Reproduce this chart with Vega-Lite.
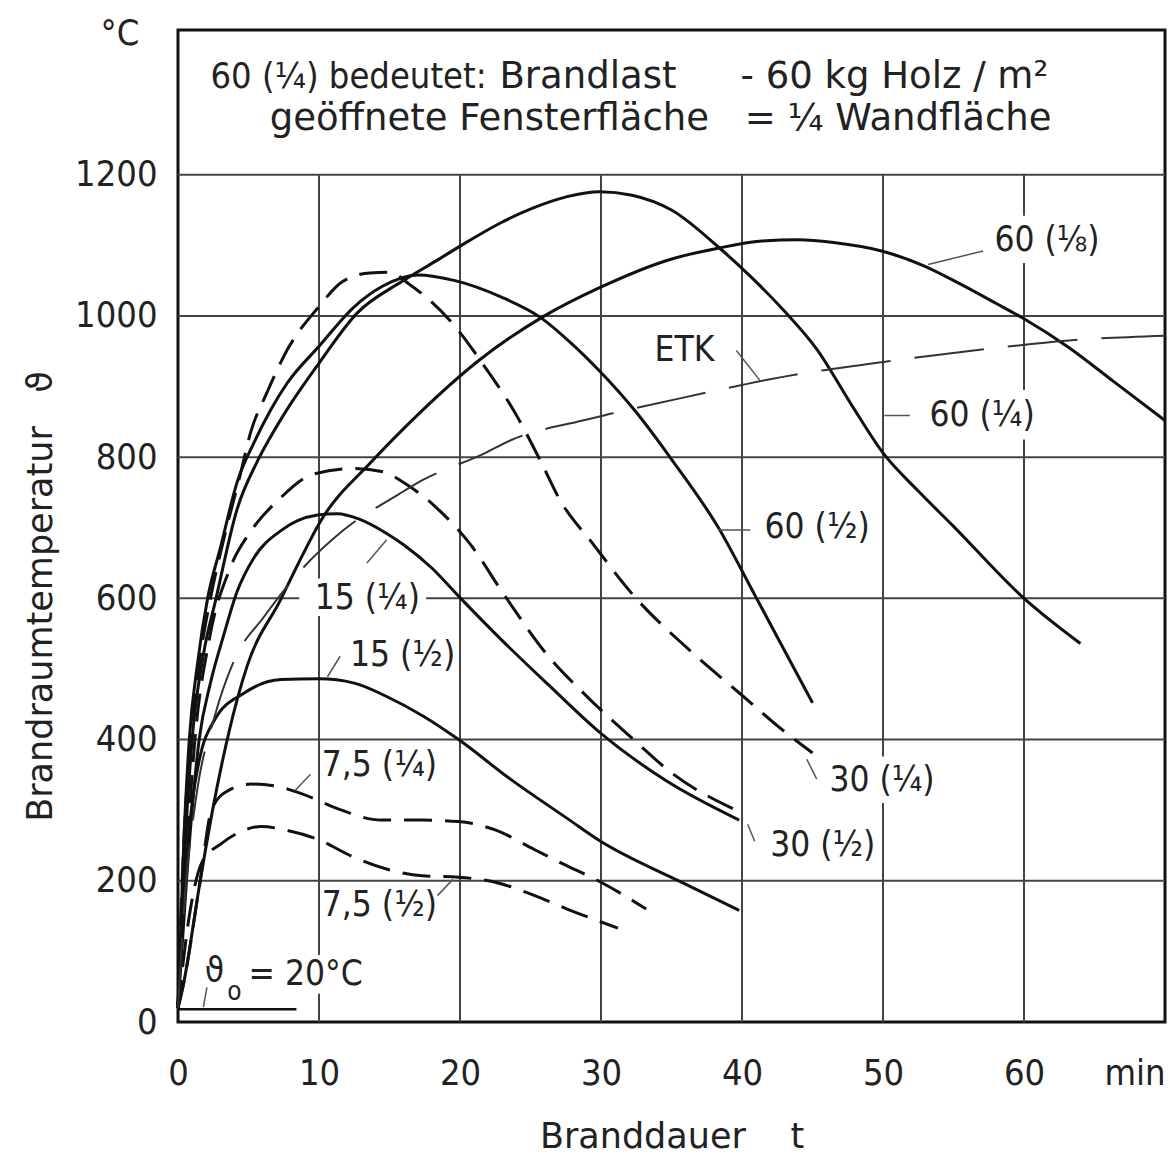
{
  "$schema": "https://vega.github.io/schema/vega-lite/v6.json",
  "width": 987,
  "height": 992,
  "autosize": {"type": "none"},
  "padding": {"left": 178, "top": 30, "right": 5, "bottom": 134},
  "background": "white",
  "config": {
    "view": {"stroke": "#111", "strokeWidth": 3},
    "font": "DejaVu Sans Condensed, DejaVu Sans",
    "axis": {"labelFont": "DejaVu Sans Condensed, DejaVu Sans", "titleFont": "DejaVu Sans"}
  },
  "datasets": {
    "grid": [
      {"t": 10, "T": 0, "t2": 10, "T2": 1200},
      {"t": 20, "T": 0, "t2": 20, "T2": 1200},
      {"t": 30, "T": 0, "t2": 30, "T2": 1200},
      {"t": 40, "T": 0, "t2": 40, "T2": 1200},
      {"t": 50, "T": 0, "t2": 50, "T2": 1200},
      {"t": 60, "T": 0, "t2": 60, "T2": 1200},
      {"t": 0, "T": 200, "t2": 70, "T2": 200},
      {"t": 0, "T": 400, "t2": 70, "T2": 400},
      {"t": 0, "T": 600, "t2": 70, "T2": 600},
      {"t": 0, "T": 800, "t2": 70, "T2": 800},
      {"t": 0, "T": 1000, "t2": 70, "T2": 1000},
      {"t": 0, "T": 1200, "t2": 70, "T2": 1200}
    ],
    "masks": [
      {"t": 8.6, "T": 575, "t2": 17.6, "T2": 628},
      {"t": 1.6, "T": 40, "t2": 13.6, "T2": 95},
      {"t": 52.8, "T": 825, "t2": 62.2, "T2": 895},
      {"t": 57.4, "T": 1075, "t2": 66.3, "T2": 1142},
      {"t": 45.8, "T": 310, "t2": 54.3, "T2": 376}
    ],
    "leaders": [
      {"t": 53.2, "T": 1073, "t2": 57.1, "T2": 1092},
      {"t": 50.1, "T": 859, "t2": 51.9, "T2": 859},
      {"t": 39.6, "T": 951, "t2": 41.3, "T2": 908},
      {"t": 38.3, "T": 697, "t2": 40.6, "T2": 697},
      {"t": 44.6, "T": 372, "t2": 45.3, "T2": 344},
      {"t": 40.4, "T": 280, "t2": 40.9, "T2": 256},
      {"t": 13.4, "T": 650, "t2": 14.8, "T2": 683},
      {"t": 10.6, "T": 489, "t2": 11.5, "T2": 518},
      {"t": 8.3, "T": 328, "t2": 9.4, "T2": 351},
      {"t": 18.4, "T": 179, "t2": 19.5, "T2": 202},
      {"t": 1.8, "T": 21, "t2": 2.05, "T2": 49}
    ],
    "base": [
      {"t": 0, "T": 18, "t2": 8.4, "T2": 18}
    ],
    "labels": [
      {"t": 57.9, "T": 1108, "label": "60 (⅛)"},
      {"t": 53.3, "T": 860, "label": "60 (¼)"},
      {"t": 33.8, "T": 952, "label": "ETK"},
      {"t": 41.6, "T": 701, "label": "60 (½)"},
      {"t": 46.2, "T": 343, "label": "30 (¼)"},
      {"t": 42.0, "T": 251, "label": "30 (½)"},
      {"t": 9.7, "T": 601, "label": "15 (¼)"},
      {"t": 12.2, "T": 520, "label": "15 (½)"},
      {"t": 10.2, "T": 364, "label": "7,5 (¼)"},
      {"t": 10.2, "T": 166, "label": "7,5 (½)"},
      {"t": 1.9, "T": 72, "label": "ϑ"},
      {"t": 5.0, "T": 68, "label": "= 20°C"}
    ],
    "subs": [
      {"t": 3.5, "T": 42, "label": "o"}
    ],
    "headerA": [
      {"t": 2.3, "T": 1339, "label": "60 (¼) bedeutet:"},
      {"t": -5.5, "T": 1400, "label": "°C"}
    ],
    "headerB": [
      {"t": 22.8, "T": 1339, "label": "Brandlast"},
      {"t": 39.9, "T": 1339, "label": "- 60 kg Holz / m²"},
      {"t": 6.5, "T": 1279, "label": "geöffnete Fensterfläche"},
      {"t": 40.2, "T": 1279, "label": "= ¼ Wandfläche"}
    ],
    "curves": [
      {"s": "60 (¼)", "t": 0, "T": 20}, {"s": "60 (¼)", "t": 0.5, "T": 250}, {"s": "60 (¼)", "t": 1, "T": 400}, {"s": "60 (¼)", "t": 1.8, "T": 520}, {"s": "60 (¼)", "t": 2.7, "T": 600}, {"s": "60 (¼)", "t": 4.2, "T": 727}, {"s": "60 (¼)", "t": 5.6, "T": 793}, {"s": "60 (¼)", "t": 6.6, "T": 830}, {"s": "60 (¼)", "t": 7.75, "T": 868}, {"s": "60 (¼)", "t": 10, "T": 933}, {"s": "60 (¼)", "t": 12.7, "T": 1004}, {"s": "60 (¼)", "t": 15.9, "T": 1049}, {"s": "60 (¼)", "t": 18.3, "T": 1078}, {"s": "60 (¼)", "t": 20.6, "T": 1106}, {"s": "60 (¼)", "t": 22.9, "T": 1132}, {"s": "60 (¼)", "t": 25.2, "T": 1153}, {"s": "60 (¼)", "t": 27.6, "T": 1169}, {"s": "60 (¼)", "t": 29.9, "T": 1176}, {"s": "60 (¼)", "t": 32.2, "T": 1171}, {"s": "60 (¼)", "t": 35, "T": 1150}, {"s": "60 (¼)", "t": 38.3, "T": 1098}, {"s": "60 (¼)", "t": 40.6, "T": 1056}, {"s": "60 (¼)", "t": 43, "T": 1007}, {"s": "60 (¼)", "t": 45.3, "T": 953}, {"s": "60 (¼)", "t": 47.8, "T": 873}, {"s": "60 (¼)", "t": 50, "T": 806}, {"s": "60 (¼)", "t": 52.5, "T": 752}, {"s": "60 (¼)", "t": 55, "T": 702}, {"s": "60 (¼)", "t": 60, "T": 600}, {"s": "60 (¼)", "t": 64, "T": 536},
      {"s": "60 (⅛)", "t": 0, "T": 20}, {"s": "60 (⅛)", "t": 0.4, "T": 55}, {"s": "60 (⅛)", "t": 1.55, "T": 197}, {"s": "60 (⅛)", "t": 2.5, "T": 305}, {"s": "60 (⅛)", "t": 4.2, "T": 457}, {"s": "60 (⅛)", "t": 4.9, "T": 504}, {"s": "60 (⅛)", "t": 7.3, "T": 599}, {"s": "60 (⅛)", "t": 8.5, "T": 648}, {"s": "60 (⅛)", "t": 10.1, "T": 709}, {"s": "60 (⅛)", "t": 13.7, "T": 793}, {"s": "60 (⅛)", "t": 17, "T": 860}, {"s": "60 (⅛)", "t": 21.4, "T": 938}, {"s": "60 (⅛)", "t": 25.9, "T": 999}, {"s": "60 (⅛)", "t": 29.9, "T": 1040}, {"s": "60 (⅛)", "t": 34.9, "T": 1080}, {"s": "60 (⅛)", "t": 38.3, "T": 1096}, {"s": "60 (⅛)", "t": 41.4, "T": 1106}, {"s": "60 (⅛)", "t": 44, "T": 1108}, {"s": "60 (⅛)", "t": 46.5, "T": 1104}, {"s": "60 (⅛)", "t": 49.9, "T": 1092}, {"s": "60 (⅛)", "t": 52.9, "T": 1071}, {"s": "60 (⅛)", "t": 55.5, "T": 1045}, {"s": "60 (⅛)", "t": 58, "T": 1018}, {"s": "60 (⅛)", "t": 60, "T": 996}, {"s": "60 (⅛)", "t": 63.2, "T": 955}, {"s": "60 (⅛)", "t": 66.3, "T": 908}, {"s": "60 (⅛)", "t": 70, "T": 852},
      {"s": "60 (½)", "t": 0, "T": 20}, {"s": "60 (½)", "t": 0.4, "T": 250}, {"s": "60 (½)", "t": 0.8, "T": 400}, {"s": "60 (½)", "t": 1.4, "T": 510}, {"s": "60 (½)", "t": 2.1, "T": 600}, {"s": "60 (½)", "t": 3, "T": 671}, {"s": "60 (½)", "t": 4.2, "T": 765}, {"s": "60 (½)", "t": 5.4, "T": 821}, {"s": "60 (½)", "t": 6.6, "T": 868}, {"s": "60 (½)", "t": 7.75, "T": 905}, {"s": "60 (½)", "t": 10, "T": 957}, {"s": "60 (½)", "t": 12.5, "T": 1013}, {"s": "60 (½)", "t": 14.5, "T": 1042}, {"s": "60 (½)", "t": 17, "T": 1058}, {"s": "60 (½)", "t": 19.65, "T": 1050}, {"s": "60 (½)", "t": 22.9, "T": 1027}, {"s": "60 (½)", "t": 25.7, "T": 998}, {"s": "60 (½)", "t": 27.8, "T": 963}, {"s": "60 (½)", "t": 29.9, "T": 922}, {"s": "60 (½)", "t": 32.4, "T": 866}, {"s": "60 (½)", "t": 35, "T": 797}, {"s": "60 (½)", "t": 38.3, "T": 701}, {"s": "60 (½)", "t": 40.9, "T": 605}, {"s": "60 (½)", "t": 45, "T": 452},
      {"s": "15 (¼)", "t": 0, "T": 20}, {"s": "15 (¼)", "t": 0.6, "T": 200}, {"s": "15 (¼)", "t": 1.5, "T": 400}, {"s": "15 (¼)", "t": 2.3, "T": 480}, {"s": "15 (¼)", "t": 3.2, "T": 545}, {"s": "15 (¼)", "t": 4.2, "T": 610}, {"s": "15 (¼)", "t": 5.4, "T": 658}, {"s": "15 (¼)", "t": 7.3, "T": 696}, {"s": "15 (¼)", "t": 9.9, "T": 718}, {"s": "15 (¼)", "t": 11.3, "T": 720}, {"s": "15 (¼)", "t": 12.9, "T": 712}, {"s": "15 (¼)", "t": 14.8, "T": 692}, {"s": "15 (¼)", "t": 16, "T": 676}, {"s": "15 (¼)", "t": 18, "T": 643}, {"s": "15 (¼)", "t": 20, "T": 601}, {"s": "15 (¼)", "t": 22.8, "T": 544}, {"s": "15 (¼)", "t": 26.3, "T": 477}, {"s": "15 (¼)", "t": 29.8, "T": 412}, {"s": "15 (¼)", "t": 34.6, "T": 342}, {"s": "15 (¼)", "t": 39.8, "T": 286},
      {"s": "15 (½)", "t": 0, "T": 20}, {"s": "15 (½)", "t": 0.5, "T": 200}, {"s": "15 (½)", "t": 1, "T": 310}, {"s": "15 (½)", "t": 1.5, "T": 370}, {"s": "15 (½)", "t": 2.6, "T": 428}, {"s": "15 (½)", "t": 4.7, "T": 466}, {"s": "15 (½)", "t": 7.3, "T": 485}, {"s": "15 (½)", "t": 10, "T": 486}, {"s": "15 (½)", "t": 12.5, "T": 480}, {"s": "15 (½)", "t": 14.8, "T": 461}, {"s": "15 (½)", "t": 17.4, "T": 433}, {"s": "15 (½)", "t": 19.9, "T": 400}, {"s": "15 (½)", "t": 23.5, "T": 345}, {"s": "15 (½)", "t": 27.7, "T": 287}, {"s": "15 (½)", "t": 29.8, "T": 258}, {"s": "15 (½)", "t": 35.7, "T": 198}, {"s": "15 (½)", "t": 39.8, "T": 158},
      {"s": "30 (¼)", "t": 0, "T": 20}, {"s": "30 (¼)", "t": 0.4, "T": 250}, {"s": "30 (¼)", "t": 0.9, "T": 400}, {"s": "30 (¼)", "t": 1.6, "T": 520}, {"s": "30 (¼)", "t": 2.3, "T": 600}, {"s": "30 (¼)", "t": 3.2, "T": 680}, {"s": "30 (¼)", "t": 4.4, "T": 774}, {"s": "30 (¼)", "t": 5.15, "T": 835}, {"s": "30 (¼)", "t": 6.3, "T": 891}, {"s": "30 (¼)", "t": 7.75, "T": 952}, {"s": "30 (¼)", "t": 9.9, "T": 1011}, {"s": "30 (¼)", "t": 11.7, "T": 1049}, {"s": "30 (¼)", "t": 13.6, "T": 1061}, {"s": "30 (¼)", "t": 15, "T": 1062}, {"s": "30 (¼)", "t": 16.4, "T": 1045}, {"s": "30 (¼)", "t": 19.9, "T": 979}, {"s": "30 (¼)", "t": 21.3, "T": 941}, {"s": "30 (¼)", "t": 24.1, "T": 856}, {"s": "30 (¼)", "t": 25.7, "T": 795}, {"s": "30 (¼)", "t": 27.1, "T": 739}, {"s": "30 (¼)", "t": 29.4, "T": 678}, {"s": "30 (¼)", "t": 32.4, "T": 602}, {"s": "30 (¼)", "t": 36.2, "T": 528}, {"s": "30 (¼)", "t": 40.1, "T": 461}, {"s": "30 (¼)", "t": 42.6, "T": 418}, {"s": "30 (¼)", "t": 45, "T": 381},
      {"s": "30 (½)", "t": 0, "T": 20}, {"s": "30 (½)", "t": 0.5, "T": 200}, {"s": "30 (½)", "t": 1.2, "T": 400}, {"s": "30 (½)", "t": 2.2, "T": 540}, {"s": "30 (½)", "t": 3.7, "T": 643}, {"s": "30 (½)", "t": 5.2, "T": 696}, {"s": "30 (½)", "t": 7.1, "T": 739}, {"s": "30 (½)", "t": 9.6, "T": 776}, {"s": "30 (½)", "t": 12.5, "T": 784}, {"s": "30 (½)", "t": 14.6, "T": 779}, {"s": "30 (½)", "t": 16, "T": 764}, {"s": "30 (½)", "t": 18.3, "T": 729}, {"s": "30 (½)", "t": 20.6, "T": 680}, {"s": "30 (½)", "t": 23.2, "T": 603}, {"s": "30 (½)", "t": 26.1, "T": 522}, {"s": "30 (½)", "t": 28.9, "T": 463}, {"s": "30 (½)", "t": 32.2, "T": 402}, {"s": "30 (½)", "t": 35, "T": 353}, {"s": "30 (½)", "t": 40, "T": 296},
      {"s": "7,5 (¼)", "t": 0, "T": 20}, {"s": "7,5 (¼)", "t": 0.4, "T": 55}, {"s": "7,5 (¼)", "t": 1.55, "T": 197}, {"s": "7,5 (¼)", "t": 2.4, "T": 302}, {"s": "7,5 (¼)", "t": 3.5, "T": 327}, {"s": "7,5 (¼)", "t": 5.2, "T": 337}, {"s": "7,5 (¼)", "t": 7, "T": 334}, {"s": "7,5 (¼)", "t": 8.8, "T": 323}, {"s": "7,5 (¼)", "t": 11.6, "T": 300}, {"s": "7,5 (¼)", "t": 14.4, "T": 286}, {"s": "7,5 (¼)", "t": 17.3, "T": 286}, {"s": "7,5 (¼)", "t": 19.9, "T": 284}, {"s": "7,5 (¼)", "t": 22.5, "T": 272}, {"s": "7,5 (¼)", "t": 25.3, "T": 244}, {"s": "7,5 (¼)", "t": 27.6, "T": 221}, {"s": "7,5 (¼)", "t": 30, "T": 198}, {"s": "7,5 (¼)", "t": 33.2, "T": 160},
      {"s": "7,5 (½)", "t": 0, "T": 20}, {"s": "7,5 (½)", "t": 0.8, "T": 150}, {"s": "7,5 (½)", "t": 1.7, "T": 226}, {"s": "7,5 (½)", "t": 3.1, "T": 253}, {"s": "7,5 (½)", "t": 4.5, "T": 270}, {"s": "7,5 (½)", "t": 5.9, "T": 277}, {"s": "7,5 (½)", "t": 7.6, "T": 272}, {"s": "7,5 (½)", "t": 10, "T": 258}, {"s": "7,5 (½)", "t": 12.3, "T": 235}, {"s": "7,5 (½)", "t": 14.9, "T": 216}, {"s": "7,5 (½)", "t": 17.3, "T": 207}, {"s": "7,5 (½)", "t": 19.9, "T": 205}, {"s": "7,5 (½)", "t": 22.5, "T": 198}, {"s": "7,5 (½)", "t": 25.3, "T": 179}, {"s": "7,5 (½)", "t": 27.6, "T": 160}, {"s": "7,5 (½)", "t": 31.2, "T": 133},
      {"s": "ETK", "t": 0, "T": 20}, {"s": "ETK", "t": 0.5, "T": 180}, {"s": "ETK", "t": 1.3, "T": 320}, {"s": "ETK", "t": 2.6, "T": 433}, {"s": "ETK", "t": 4, "T": 513}, {"s": "ETK", "t": 6.1, "T": 574}, {"s": "ETK", "t": 8.5, "T": 635}, {"s": "ETK", "t": 11.7, "T": 696}, {"s": "ETK", "t": 15.7, "T": 748}, {"s": "ETK", "t": 17.3, "T": 767}, {"s": "ETK", "t": 21.7, "T": 805}, {"s": "ETK", "t": 23.6, "T": 824}, {"s": "ETK", "t": 28.7, "T": 852}, {"s": "ETK", "t": 30.6, "T": 861}, {"s": "ETK", "t": 36, "T": 885}, {"s": "ETK", "t": 42.7, "T": 913}, {"s": "ETK", "t": 50.4, "T": 936}, {"s": "ETK", "t": 58.1, "T": 955}, {"s": "ETK", "t": 63, "T": 965}, {"s": "ETK", "t": 70, "T": 972}
    ]
  },
  "encoding": {
    "x": {
      "field": "t", "type": "quantitative",
      "scale": {"domain": [0, 70], "nice": false, "zero": false},
      "axis": {
        "values": [0, 10, 20, 30, 40, 50, 60, 70],
        "labelExpr": "datum.value == 70 ? 'min' : datum.label",
        "labelAlign": {"condition": {"test": "datum.value == 70", "value": "right"}, "value": "center"},
        "labelFlush": false,
        "grid": false, "ticks": false, "domain": false,
        "labelFontSize": 36, "labelPadding": 34, "labelColor": "#222",
        "title": "Branddauer\u00a0\u00a0\u00a0\u00a0t",
        "titleFontSize": 35, "titleFontWeight": "normal", "titleColor": "#222", "titlePadding": 28
      }
    },
    "y": {
      "field": "T", "type": "quantitative",
      "scale": {"domain": [0, 1405], "nice": false},
      "axis": {
        "values": [0, 200, 400, 600, 800, 1000, 1200],
        "format": "d",
        "labelFlush": false,
        "grid": false, "ticks": false, "domain": false,
        "labelFontSize": 36, "labelPadding": 21, "labelColor": "#222",
        "title": "Brandraumtemperatur\u00a0\u00a0\u00a0ϑ",
        "titleFontSize": 35, "titleFontWeight": "normal", "titleColor": "#222",
        "titleAngle": -90, "titleAlign": "center", "titleBaseline": "middle",
        "titleX": -138, "titleY": 566
      }
    }
  },
  "layer": [
    {
      "data": {"name": "grid"},
      "mark": {"type": "rule", "color": "#444", "strokeWidth": 2},
      "encoding": {"x2": {"field": "t2"}, "y2": {"field": "T2"}}
    },
    {
      "data": {"name": "masks"},
      "mark": {"type": "rect", "fill": "white", "stroke": null},
      "encoding": {"x2": {"field": "t2"}, "y2": {"field": "T2"}}
    },
    {
      "data": {"name": "curves"},
      "transform": [{"filter": {"field": "s", "oneOf": ["60 (¼)", "60 (⅛)", "60 (½)", "15 (¼)", "15 (½)"]}}],
      "mark": {"type": "line", "interpolate": "monotone", "color": "#111", "strokeWidth": 3},
      "encoding": {"detail": {"field": "s", "type": "nominal"}}
    },
    {
      "data": {"name": "curves"},
      "transform": [{"filter": {"field": "s", "oneOf": ["30 (¼)", "30 (½)", "7,5 (¼)", "7,5 (½)"]}}],
      "mark": {"type": "line", "interpolate": "monotone", "color": "#111", "strokeWidth": 3, "strokeDash": [28, 13]},
      "encoding": {"detail": {"field": "s", "type": "nominal"}}
    },
    {
      "data": {"name": "curves"},
      "transform": [{"filter": {"field": "s", "equal": "ETK"}}],
      "mark": {"type": "line", "interpolate": "monotone", "color": "#333", "strokeWidth": 2, "strokeDash": [70, 24]},
      "encoding": {"detail": {"field": "s", "type": "nominal"}}
    },
    {
      "data": {"name": "leaders"},
      "mark": {"type": "rule", "color": "#555", "strokeWidth": 1.5},
      "encoding": {"x2": {"field": "t2"}, "y2": {"field": "T2"}}
    },
    {
      "data": {"name": "base"},
      "mark": {"type": "rule", "color": "#111", "strokeWidth": 2.5},
      "encoding": {"x2": {"field": "t2"}, "y2": {"field": "T2"}}
    },
    {
      "data": {"name": "labels"},
      "mark": {"type": "text", "align": "left", "baseline": "middle", "fontSize": 35, "color": "#222", "font": "DejaVu Sans Condensed, DejaVu Sans"},
      "encoding": {"text": {"field": "label", "type": "nominal"}}
    },
    {
      "data": {"name": "subs"},
      "mark": {"type": "text", "align": "left", "baseline": "middle", "fontSize": 26, "color": "#222", "font": "DejaVu Sans Condensed, DejaVu Sans"},
      "encoding": {"text": {"field": "label", "type": "nominal"}}
    },
    {
      "data": {"name": "headerA"},
      "mark": {"type": "text", "align": "left", "baseline": "middle", "fontSize": 36, "color": "#222", "font": "DejaVu Sans Condensed, DejaVu Sans"},
      "encoding": {"text": {"field": "label", "type": "nominal"}}
    },
    {
      "data": {"name": "headerB"},
      "mark": {"type": "text", "align": "left", "baseline": "middle", "fontSize": 37, "color": "#222", "font": "DejaVu Sans"},
      "encoding": {"text": {"field": "label", "type": "nominal"}}
    }
  ]
}
